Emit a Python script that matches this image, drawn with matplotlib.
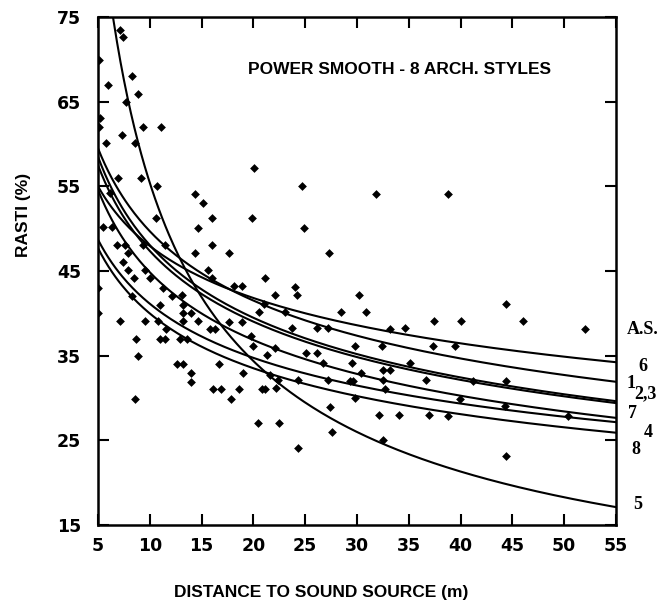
import numpy as np
import matplotlib.pyplot as plt
from matplotlib.transforms import blended_transform_factory

# measured RASTI values (%) vs distance to sound source (m)
dist_m = [
    7.1, 7.4, 5.1, 8.25, 6.0, 8.9, 7.7, 5.2, 5.1, 9.3, 11.1, 7.3, 8.6, 5.8, 20.1,
    6.9, 9.2, 10.7, 14.4, 15.1, 6.2, 16.0, 19.9, 10.6, 14.7, 5.5, 6.4, 16.0, 6.8,
    7.6, 9.3, 7.9, 14.4, 17.6, 11.5, 7.4,
    24.7, 31.8, 38.8, 24.9, 27.3, 21.1, 24.0, 24.2, 30.2, 30.9, 28.5, 37.4, 22.1,
    23.1, 21.0, 34.6, 23.7, 27.2,
    44.4, 40.0, 46.0, 52.0, 39.5, 37.3, 41.2, 44.4, 39.9, 44.3, 50.4, 38.8, 33.2,
    29.8, 32.4, 29.5, 35.1, 32.5, 33.2, 30.4, 32.5, 36.7, 32.7, 29.8, 32.1, 34.1,
    37.0, 32.5, 44.4,
    26.1, 22.1, 25.1, 26.1, 21.3, 26.7, 21.6, 22.4, 24.3, 27.2, 29.3, 29.6, 22.2,
    21.1, 27.4, 22.5, 27.6, 24.3,
    7.9, 9.5, 8.5, 10.0, 11.3, 5.0, 13.1, 12.1, 8.25, 11.0, 13.2, 13.2, 14.0, 5.0,
    7.1, 9.5, 10.8, 13.2, 14.7, 11.6, 15.8, 16.3, 8.7, 11.0, 11.5, 12.9, 13.6, 8.9,
    12.6, 13.2, 16.7, 14.0, 14.0, 19.0, 16.1, 16.9, 18.6, 20.8, 17.8, 8.6, 20.4,
    18.1, 18.9, 16.0, 15.6, 20.5, 17.6, 18.9, 19.8, 20.0,
]
rasti_pct = [
    73.5, 72.6, 69.9, 68.0, 67.0, 65.9, 65.0, 63.1, 62.0, 62.0, 62.0, 61.1, 60.1,
    60.1, 57.1, 56.0, 56.0, 55.0, 54.1, 53.0, 54.2, 51.2, 51.2, 51.2, 50.1, 50.2,
    50.2, 48.1, 48.1, 48.1, 48.1, 47.1, 47.1, 47.1, 48.1, 46.1,
    55.0, 54.1, 54.1, 50.1, 47.1, 44.2, 43.1, 42.1, 42.1, 40.1, 40.1, 39.1, 42.2,
    40.1, 41.1, 38.2, 38.2, 38.2,
    41.1, 39.1, 39.1, 38.1, 36.1, 36.1, 32.0, 32.0, 29.9, 29.0, 27.8, 27.9, 38.1,
    36.1, 36.1, 34.1, 34.1, 33.3, 33.3, 32.9, 32.1, 32.1, 31.1, 30.0, 28.0, 28.0,
    28.0, 25.0, 23.1,
    38.2, 35.9, 35.3, 35.3, 35.1, 34.1, 32.7, 32.1, 32.1, 32.1, 32.0, 32.0, 31.2,
    31.0, 28.9, 27.0, 26.0, 24.1,
    45.1, 45.1, 44.2, 44.2, 43.0, 43.0, 42.2, 42.0, 42.0, 41.0, 41.0, 40.0, 40.0,
    40.0, 39.1, 39.1, 39.1, 39.1, 39.1, 38.1, 38.1, 38.1, 37.0, 37.0, 37.0, 37.0,
    37.0, 35.0, 34.0, 34.0, 34.0, 32.9, 31.9, 32.9, 31.0, 31.0, 31.0, 31.0, 29.9,
    29.9, 27.0, 43.2, 43.2, 44.2, 45.1, 40.2, 39.0, 39.0, 37.3, 36.1,
]

# power smooth per architectural style: RASTI = y5 * (d / 5) ** b
styles = ['6', '1', '2', '3', '7', '4', '8', '5']
rasti_at_5m = [55.0, 59.5, 58.5, 57.5, 54.6, 48.7, 47.7, 89.4]
exponents = [-0.198, -0.260, -0.284, -0.280, -0.284, -0.244, -0.255, -0.690]

fig = plt.figure(figsize=(6.71, 6.06), dpi=100)
ax = fig.add_axes([0.146, 0.134, 0.772, 0.838])

d = np.linspace(5, 55, 300)
for y5, b in zip(rasti_at_5m, exponents):
    ax.plot(d, y5 * (d / 5) ** b, color='black', lw=1.5)

ax.scatter(dist_m, rasti_pct, marker='D', s=20, color='black', lw=0, zorder=3)

ax.set_xlim(5, 55)
ax.set_ylim(15, 75)
ax.set_xticks(np.arange(5, 56, 5))
ax.set_yticks(np.arange(15, 76, 10))
for sp in ax.spines.values():
    sp.set_linewidth(1.8)
ax.tick_params(direction='in', length=8, width=1.5, top=True, right=True,
               labelsize=12.5)
ax.tick_params(axis='x', pad=9)
ax.tick_params(axis='y', pad=12)
for lab in ax.get_xticklabels() + ax.get_yticklabels():
    lab.set_fontweight('bold')

ax.set_xlabel('DISTANCE TO SOUND SOURCE (m)', fontsize=12.5, fontweight='bold',
              family='Liberation Sans')
ax.xaxis.set_label_coords(0.43, -0.118)
ax.set_ylabel('RASTI (%)', fontsize=12.5, fontweight='bold', family='Liberation Sans')
ax.yaxis.set_label_coords(-0.13, 0.61)

ax.text(0.583, 0.896, 'POWER SMOOTH - 8 ARCH. STYLES', transform=ax.transAxes,
        ha='center', va='center', fontsize=12.5, fontweight='bold',
        family='Liberation Sans')

# style labels to the right of the curve ends
tr = blended_transform_factory(ax.transAxes, ax.transData)
serif = dict(family='Liberation Serif', fontweight='bold', fontsize=13,
             transform=tr, va='center', clip_on=False)
ax.text(1.021, 38.05, 'A.S.', ha='left', **serif)
ax.text(1.052, 33.7, '6', ha='center', **serif)
ax.text(1.029, 31.75, '1', ha='center', **serif)
ax.text(1.036, 30.5, '2,3', ha='left', **serif)
ax.text(1.031, 28.2, '7', ha='center', **serif)
ax.text(1.062, 25.9, '4', ha='center', **serif)
ax.text(1.039, 23.9, '8', ha='center', **serif)
ax.text(1.042, 17.4, '5', ha='center', **serif)

fig.savefig('out.png', dpi=100)
